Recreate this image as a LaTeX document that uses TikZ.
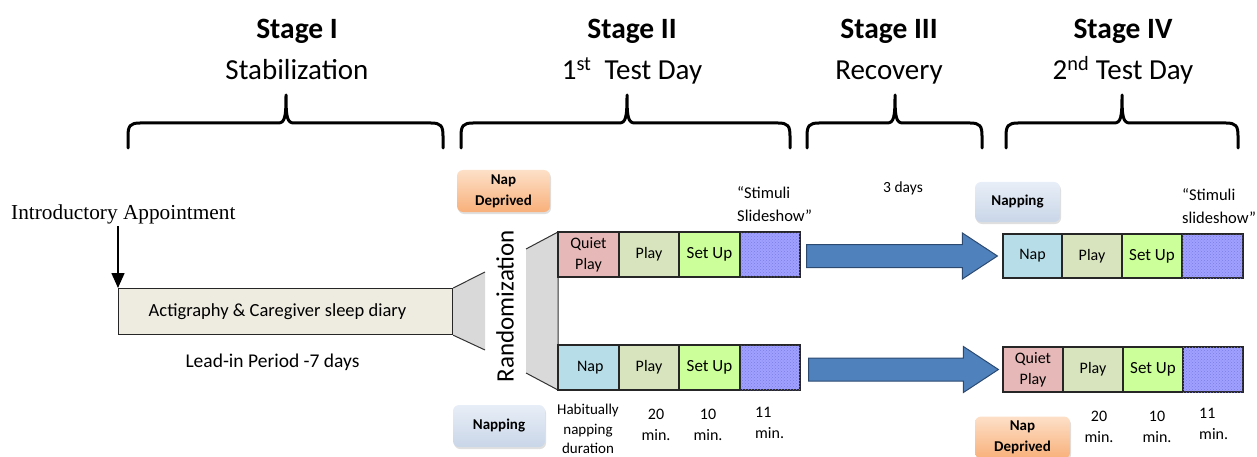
\documentclass[tikz,border=0pt]{standalone}
\usepackage{fontspec}
\setmainfont{Carlito}
\newfontfamily\timesfont{Liberation Serif}
\usetikzlibrary{arrows.meta,patterns,shadows,calc}

\definecolor{beige}{HTML}{EEECE1}
\definecolor{quietc}{HTML}{E6B9B8}
\definecolor{playc}{HTML}{D7E4BD}
\definecolor{setupc}{HTML}{CCFF99}
\definecolor{napc}{HTML}{B7DEE8}
\definecolor{stimc}{HTML}{A0A0FF}
\definecolor{stimdot}{HTML}{7C7CE8}
\definecolor{arrowfill}{HTML}{4F81BD}
\definecolor{arrowline}{HTML}{2C4A70}
\definecolor{funnelc}{HTML}{D9D9D9}
\definecolor{orangetop}{HTML}{FDE0C8}
\definecolor{orangebot}{HTML}{F8B07A}
\definecolor{bluetop}{HTML}{E8EEF7}
\definecolor{bluebot}{HTML}{C9D6E8}

% curly brace over a stage: left end, tip, right end
\newcommand\stagebrace[3]{%
  \draw[bracestroke] (#1,148) -- (#1,136)
    .. controls (#1,126) and (#1+2,123) .. (#1+12,123)
    -- (#2-8,123) .. controls (#2-1,123) and (#2,117) .. (#2,95)
    .. controls (#2,117) and (#2+1,123) .. (#2+8,123)
    -- (#3-12,123) .. controls (#3-2,123) and (#3,126) .. (#3,136)
    -- (#3,148);}

% block arrow from one anchor to another
\newcommand\blockarrow[2]{%
  \draw[bigarrow] let \p1=(#1), \p2=(#2) in
    (\x1,\y2+11.5pt) -- (\x2-35pt,\y2+11.5pt) -- (\x2-35pt,\y2+23pt)
    -- (\x2,\y2) -- (\x2-35pt,\y2-23pt) -- (\x2-35pt,\y2-11.5pt)
    -- (\x1,\y2-11.5pt) -- cycle;}

\begin{document}
\begin{tikzpicture}[x=1pt,y=-1pt,
  bracestroke/.style={line width=3pt, line join=round, line cap=round},
  title/.style={font=\bfseries\fontsize{29.5}{32}\selectfont, anchor=base},
  subtitle/.style={font=\fontsize{29}{32}\selectfont, anchor=base},
  cell/.style={draw=black!85, line width=1.2pt, inner sep=0pt,
    font=\fontsize{16}{21}\selectfont, align=center},
  setup/.style={cell, fill=setupc, font=\fontsize{17}{21}\selectfont},
  stim/.style={cell, fill=stimc, postaction={pattern=crosshatch dots, pattern color=stimdot}},
  badge/.style={rounded corners=6pt, inner sep=0pt, align=center,
    font=\bfseries\fontsize{15}{21}\selectfont,
    drop shadow={shadow xshift=1pt, shadow yshift=-2pt, opacity=0.25}},
  orangebadge/.style={badge, top color=orangetop, bottom color=orangebot},
  bluebadge/.style={badge, top color=bluetop, bottom color=bluebot},
  small/.style={font=\fontsize{15}{21}\selectfont, align=center, inner sep=0pt},
  bigarrow/.style={fill=arrowfill, draw=arrowline, line width=1pt, line join=miter},
  funnel/.style={fill=funnelc},
  funnelline/.style={draw=black!80, line width=1pt}]
\useasboundingbox (0,0) rectangle (1257,457);

% stage headings
\node[title] (s1) at (297,39) {Stage I};
\node[subtitle] (s1b) at (297,80) {Stabilization};
\node[title] (s2) at (632,39) {Stage II};
\node[subtitle] (s2b) at (632,80) {1\textsuperscript{st}\ \ Test Day};
\node[title] (s3) at (889,39) {Stage III};
\node[subtitle] (s3b) at (889,80) {Recovery};
\node[title] (s4) at (1123,39) {Stage IV};
\node[subtitle] (s4b) at (1123,80) {2\textsuperscript{nd} Test Day};

\stagebrace{128}{286}{443}
\stagebrace{461}{627}{790}
\stagebrace{807}{895}{982}
\stagebrace{1006}{1122}{1238}

% stage I
\node[font=\timesfont\fontsize{21.3}{24}\selectfont, anchor=base west, inner sep=0pt]
  (intro) at (11,219) {Introductory Appointment};
\node[draw=black!85, line width=1.2pt, fill=beige, minimum width=334pt,
  minimum height=46pt, anchor=north west, inner sep=0pt] (acti) at (118,288) {};
\node[font=\fontsize{18.5}{22}\selectfont] (actitext) at (277.5,312) {Actigraphy \& Caregiver sleep diary};
\node[font=\fontsize{19.5}{22}\selectfont] (leadin) at (272.5,362) {Lead-in Period -7 days};
\coordinate (introfoot) at (118,226);
\draw[line width=1.6pt, -{Triangle[length=15pt,width=13pt]}] (introfoot) -- (acti.north west);

% first funnel
\coordinate (f1t) at (485,272);
\coordinate (f1b) at (485,350);
\fill[funnel] (acti.north east) -- (f1t) -- (f1b) -- (acti.south east) -- cycle;
\draw[funnelline] (acti.north east) -- (f1t);
\draw[funnelline] (acti.south east) -- (f1b);

% randomization funnel
\coordinate (f2a) at (526,249);
\coordinate (f2b) at (558,232);
\coordinate (f2c) at (558,390);
\coordinate (f2d) at (526,373);
\fill[funnel] (f2a) -- (f2b) -- (f2c) -- (f2d) -- cycle;
\draw[funnelline] (f2a) -- (f2b) -- (f2c) -- (f2d);
\node[font=\fontsize{25}{28}\selectfont, rotate=90] (rand) at (505,306) {Randomization};

% stage II rows
\node[cell, fill=quietc, minimum width=61pt, minimum height=45pt] (aq) at (588.5,254.5) {Quiet\\Play};
\node[cell, fill=playc, minimum width=60pt, minimum height=45pt] (ap) at (649,254.5) {Play};
\node[setup, minimum width=61pt, minimum height=45pt] (as) at (709.5,254.5) {Set Up};
\node[stim, minimum width=60pt, minimum height=45pt] (ax) at (770,254.5) {};

\node[cell, fill=napc, minimum width=61pt, minimum height=45pt] (bn) at (588.5,367.5) {\ Nap};
\node[cell, fill=playc, minimum width=60pt, minimum height=45pt] (bp) at (649,367.5) {Play};
\node[setup, minimum width=61pt, minimum height=45pt] (bs) at (709.5,367.5) {Set Up};
\node[stim, minimum width=60pt, minimum height=45pt] (bx) at (770,367.5) {};

\node[orangebadge, minimum width=93pt, minimum height=42pt] (nd1) at (503.5,191) {Nap\\Deprived};
\node[bluebadge, minimum width=92pt, minimum height=42pt] (np1) at (499,426) {Napping};
\node[small, font=\fontsize{16.5}{23}\selectfont, align=left, anchor=west] (sl1) at (737,204.5) {“Stimuli\\Slideshow”};

\node[small, font=\fontsize{15}{19.5}\selectfont] (d1) at (588,429) {Habitually\\napping\\duration};
\node[small, font=\fontsize{16}{21}\selectfont] (d2) at (656,425) {20\\min.};
\node[small, font=\fontsize{16}{21}\selectfont] (d3) at (708,425) {10\\min.};
\node[small, font=\fontsize{16}{21}\selectfont, align=left, anchor=west] (d4) at (755,422.5) {11\\min.};

% stage III
\node[small, font=\fontsize{15.5}{20}\selectfont] (rec) at (903,188) {3 days};

% stage IV rows
\node[cell, fill=napc, minimum width=59pt, minimum height=44pt] (cn) at (1032.5,256) {Nap};
\node[cell, fill=playc, minimum width=60pt, minimum height=44pt] (cp) at (1092,256) {Play};
\node[setup, minimum width=60pt, minimum height=44pt] (cs) at (1152,256) {Set Up};
\node[stim, minimum width=61pt, minimum height=44pt] (cx) at (1212.5,256) {};

\node[cell, fill=quietc, minimum width=60pt, minimum height=45pt] (eq) at (1033,369.5) {Quiet\\Play};
\node[cell, fill=playc, minimum width=60pt, minimum height=45pt] (ep) at (1093,369.5) {Play};
\node[setup, minimum width=60pt, minimum height=45pt] (es) at (1153,369.5) {Set Up};
\node[stim, minimum width=60pt, minimum height=45pt] (ex) at (1213,369.5) {};

\node[bluebadge, minimum width=85pt, minimum height=40pt] (np2) at (1017.5,202) {Napping};
\node[orangebadge, minimum width=95pt, minimum height=42pt] (nd2) at (1022.5,437.5) {Nap\\Deprived};
\node[small, font=\fontsize{16.5}{23}\selectfont, align=left, anchor=west] (sl2) at (1182,206.5) {“Stimuli\\slideshow”};

\node[small, font=\fontsize{16}{21}\selectfont] (e2) at (1099,427) {20\\min.};
\node[small, font=\fontsize{16}{21}\selectfont] (e3) at (1157,427) {10\\min.};
\node[small, font=\fontsize{16}{21}\selectfont, align=left, anchor=west] (e4) at (1199,424) {11\\min.};

% transitions between test days
\blockarrow{[xshift=6pt]ax.east}{[xshift=-5pt]cn.west}
\blockarrow{[xshift=8pt]bx.east}{[xshift=-4pt]eq.west}
\end{tikzpicture}
\end{document}
